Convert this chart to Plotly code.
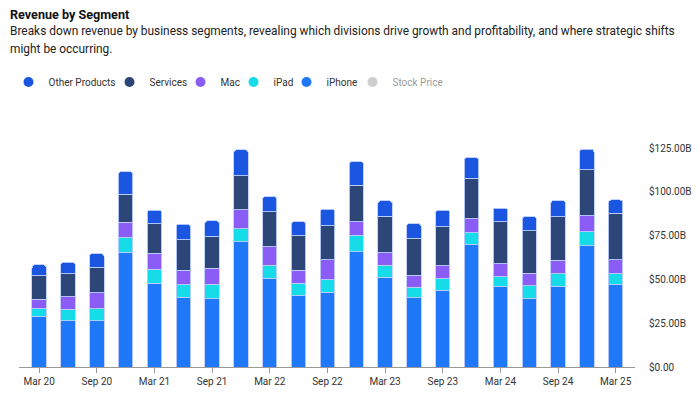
import plotly.graph_objects as go

quarters = ["Mar 20", "Jun 20", "Sep 20", "Dec 20", "Mar 21", "Jun 21", "Sep 21",
            "Dec 21", "Mar 22", "Jun 22", "Sep 22", "Dec 22", "Mar 23", "Jun 23",
            "Sep 23", "Dec 23", "Mar 24", "Jun 24", "Sep 24", "Dec 24", "Mar 25"]

iphone = [28.96, 26.42, 26.44, 65.60, 47.94, 39.57, 38.87, 71.63, 50.57, 40.67, 42.63,
          65.78, 51.33, 39.67, 43.81, 69.70, 45.96, 39.30, 46.22, 69.14, 46.84]
ipad = [4.37, 6.58, 6.80, 8.44, 7.81, 7.37, 8.25, 7.25, 7.65, 7.22, 7.17,
        9.40, 6.67, 5.79, 6.44, 7.02, 5.56, 7.16, 6.95, 8.09, 6.40]
mac = [5.35, 7.08, 9.03, 8.68, 9.10, 8.24, 9.18, 10.85, 10.44, 7.38, 11.51,
       7.74, 7.17, 6.84, 7.61, 7.78, 7.45, 7.01, 7.74, 8.99, 7.95]
services = [13.35, 13.16, 14.55, 15.76, 16.90, 17.49, 18.28, 19.52, 19.82, 19.60, 19.19,
            20.77, 20.91, 21.21, 22.31, 23.12, 23.87, 24.21, 24.97, 26.34, 26.65]
other = [6.28, 6.45, 7.88, 12.97, 7.84, 8.78, 8.79, 14.70, 8.81, 8.08, 9.65,
         13.48, 8.76, 8.28, 9.32, 11.95, 7.91, 8.10, 9.04, 11.75, 7.52]

y_ticks = [0, 25, 50, 75, 100, 125]
y_tick_labels = ["$0.00", "$25.00B", "$50.00B", "$75.00B", "$100.00B", "$125.00B"]
x_tick_labels = quarters[::2]

series = [
    ("iPhone", iphone, "#1f78f8"),
    ("iPad", ipad, "#16dbe8"),
    ("Mac", mac, "#8b5cf6"),
    ("Services", services, "#2c4677"),
    ("Other Products", other, "#1a56e0"),
]
colmap = {n: c for n, _, c in series}
legend_order = ["Other Products", "Services", "Mac", "iPad", "iPhone", "Stock Price"]
colmap["Stock Price"] = "#9e9e9e"

# The page body has an 8px margin, so the figure is drawn 8px in from the corner.
OFF = 8
W, H = 700 - OFF, 396 - OFF
L, R, T, B = 11, 65, 102, 29
pw = W - L - R
ph = H - T - B


def px_x(xs):  # screen x -> paper x
    return (xs - OFF - L) / pw


def px_y(ys):  # screen y -> paper y
    return (H - B - (ys - OFF)) / ph


fig = go.Figure()
for name, vals, col in series:
    fig.add_trace(go.Bar(
        x=quarters, y=vals, name=name, showlegend=False,
        marker=dict(color=col, line=dict(color="rgba(190,205,255,0.9)", width=1)),
    ))

legend_circle_x = [33, 134, 205, 258, 311, 377]
legends = {}
for i, n in enumerate(legend_order):
    key = "legend" if i == 0 else f"legend{i + 1}"
    fig.add_trace(go.Scatter(
        x=[None], y=[None], mode="markers", name=n, legend=key,
        marker=dict(color=colmap[n], size=10, symbol="circle"),
        visible="legendonly" if n == "Stock Price" else True,
    ))
    legends[key] = dict(
        orientation="h", x=px_x(legend_circle_x[i] - 24.5), xanchor="left",
        y=px_y(82), yanchor="middle", bgcolor="rgba(0,0,0,0)",
        font=dict(size=10, color="#333333"), itemwidth=30,
    )

fig.update_layout(
    width=W, height=H,
    barmode="stack", bargap=0.5, barcornerradius=3,
    margin=dict(l=L, r=R, t=T, b=B, autoexpand=False),
    paper_bgcolor="white", plot_bgcolor="white",
    font=dict(family="Roboto, Arial, sans-serif", size=10, color="#333333"),
    showlegend=True,
    xaxis=dict(
        type="category", range=[-0.7, 20.67],
        tickmode="array", tickvals=x_tick_labels, ticktext=x_tick_labels,
        showgrid=False, showline=True, linecolor="#999999", linewidth=1,
        ticks="outside", ticklen=5, tickcolor="#999999",
        tickfont=dict(size=10, color="#333333"), zeroline=False,
        automargin=False,
    ),
    yaxis=dict(
        side="right", range=[0, ph / 1.752],
        tickmode="array", tickvals=y_ticks, ticktext=y_tick_labels,
        showgrid=False, showline=False, zeroline=False, ticks="",
        tickfont=dict(size=10, color="#333333"), ticklabelstandoff=13,
        automargin=False,
    ),
    annotations=[
        dict(text="<b>Revenue by Segment</b>", xref="paper", yref="paper",
             x=px_x(8), y=px_y(14), xanchor="left", yanchor="middle",
             showarrow=False, font=dict(size=12.6, color="#111111")),
        dict(text="Breaks down revenue by business segments, revealing which divisions drive growth and profitability, and where strategic shifts",
             xref="paper", yref="paper",
             x=px_x(8), y=px_y(31), xanchor="left", yanchor="middle",
             showarrow=False, font=dict(size=11.9, color="#222222")),
        dict(text="might be occurring.",
             xref="paper", yref="paper",
             x=px_x(8), y=px_y(49), xanchor="left", yanchor="middle",
             showarrow=False, font=dict(size=11.9, color="#222222")),
    ],
    **legends,
)

fig.write_html("out.html")
